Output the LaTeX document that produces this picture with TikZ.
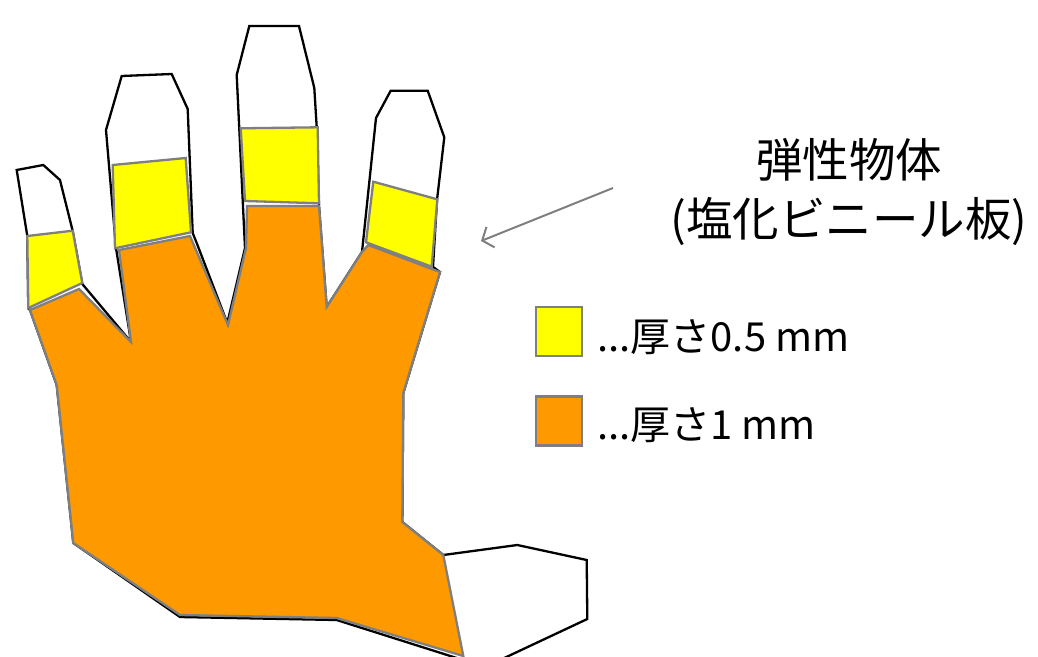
\documentclass[tikz,border=0pt]{standalone}
\usepackage{fontspec}
\setmainfont{Noto Sans CJK JP}
\usetikzlibrary{positioning,arrows.meta}
\definecolor{plateyellow}{HTML}{FFFF00}
\definecolor{plateorange}{HTML}{FF9900}
\definecolor{plategray}{HTML}{7F7F7F}

\begin{document}
\begin{tikzpicture}[
        x=1pt, y=-1pt,
        >={Straight Barb[length=9pt,width=22pt]},
        handline/.style={draw=black, line width=2.3pt, fill=white},
        thickplate/.style={draw=plategray, line width=2.3pt, fill=plateorange},
        thinplate/.style={draw=plategray, line width=2.3pt, fill=plateyellow},
        swatch/.style={draw=plategray, line width=2.3pt, minimum width=46pt, minimum height=49pt, inner sep=0pt},
        legendtext/.style={font=\fontsize{40}{48}\selectfont, inner sep=0pt, anchor=west},
        pointer/.style={->, draw=plategray, line width=2pt}
    ]
        \useasboundingbox (0,0) rectangle (1038,656);

        % hand outline
        \draw[handline] (16.7,170) -- (43.3,165) -- (60,180) -- (72.7,231) -- (82.3,284) -- (131,342)
            -- (116,248) -- (106,130) -- (121.7,76) -- (171.7,74) -- (187.7,109) -- (192.7,233)
            -- (196.7,243) -- (227.3,323) -- (245,248) -- (236.7,75) -- (249.3,26) -- (299,26)
            -- (314.3,88) -- (316.7,127) -- (319,206) -- (326.7,307) -- (362,252) -- (376,118)
            -- (390.7,90.7) -- (427.7,90.7) -- (444.3,137.3) -- (437,200) -- (433,267) -- (440,272)
            -- (403.3,393) -- (402.3,522) -- (443.3,555) -- (517.3,545) -- (586.7,560) -- (587.3,619)
            -- (500,660) -- (463,660) -- (336.7,620) -- (180,617) -- (73.3,543) -- (56.7,385)
            -- (30,310) -- (28.3,308) -- (27.3,236) -- cycle;

        % palm plate, 1 mm
        \draw[thickplate] (30,310) -- (79,289) -- (131,342) -- (119,250) -- (190,236) -- (228,325)
            -- (246,248) -- (247,206) -- (319,206) -- (326.7,307) -- (362,252) -- (368.3,245)
            -- (440,272) -- (403.3,393) -- (402.3,522) -- (443.3,555) -- (463.3,656) -- (336.7,618)
            -- (180,615) -- (73.3,543) -- (56.7,385) -- cycle;

        % finger plates, 0.5 mm
        \draw[thinplate] (27.3,236) -- (72.7,230.7) -- (82.3,283) -- (28.3,308) -- cycle;
        \draw[thinplate] (112.7,165) -- (185.7,158) -- (191,232.3) -- (115,248.3) -- cycle;
        \draw[thinplate] (240.7,128.3) -- (317.7,127.3) -- (319,203.3) -- (245,201) -- cycle;
        \draw[thinplate] (373.3,181.7) -- (437.3,199.3) -- (431.7,266.7) -- (366,242.3) -- cycle;

        \node[font=\fontsize{46.5}{59}\selectfont, align=center] (material) at (849,192) {弾性物体\\(塩化ビニール板)};
        \coordinate (pointtail) at (613,188);
        \coordinate (pointtip) at (481,241);
        \draw[pointer] (pointtail) -- (pointtip);

        \node[swatch, fill=plateyellow] (thinkey) at (559,331.5) {};
        \node[legendtext, right=14pt of thinkey, yshift=-6pt] (thinlabel) {...厚さ0.5 mm};
        \node[swatch, fill=plateorange] (thickkey) at (559,421) {};
        \node[legendtext, right=14pt of thickkey, yshift=-4pt] (thicklabel) {...厚さ1 mm};
    \end{tikzpicture}
\end{document}
